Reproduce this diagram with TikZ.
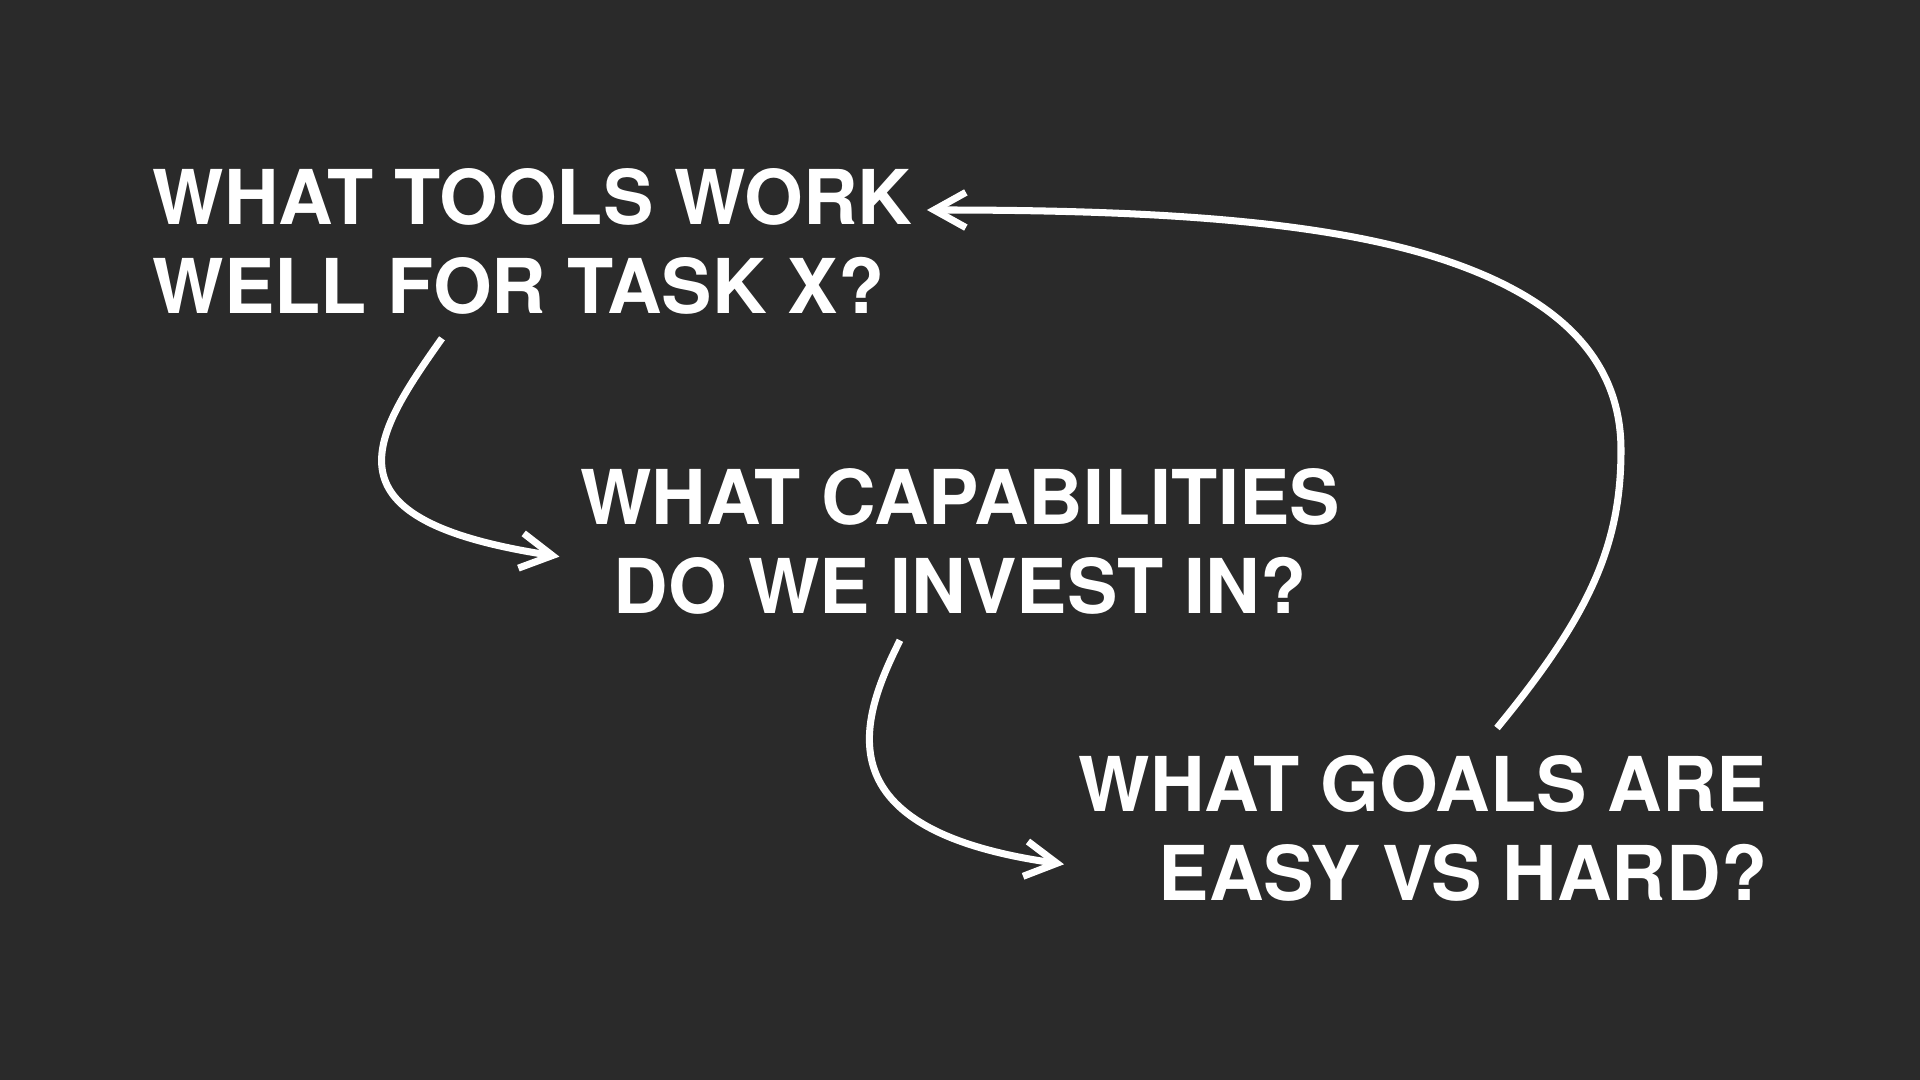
\documentclass[tikz,border=0pt]{standalone}
\usepackage{fontspec}
\setmainfont{TeX Gyre Heros}
\usetikzlibrary{arrows.meta,calc}
\definecolor{slate}{RGB}{42,42,42}
\tikzstyle{question} = [text=white, font=\bfseries\fontsize{21.5}{25.3}\selectfont, inner sep=0pt]
\tikzstyle{line} = [draw=white, line width=2pt, -{Straight Barb[length=9pt,width=10pt]}]

\begin{document}
\begin{tikzpicture}[x=0.01cm,y=-0.01cm]
    \fill[slate] (0,0) rectangle (1920,1080);
    \useasboundingbox (0,0) rectangle (1920,1080);
    % Place nodes
    \node [question, align=left, anchor=north west] (tools) at (152,168) {WHAT TOOLS WORK\\WELL FOR TASK X?};
    \node [question, align=center, anchor=north] (caps) at (960,468) {WHAT CAPABILITIES\\DO WE INVEST IN?};
    \node [question, align=right, anchor=north east] (goals) at (1768,755) {WHAT GOALS ARE\\EASY VS HARD?};
    % Draw edges
    \path [line] ($(tools.south west)+(290,23)$) .. controls (370,440) and (320,520) .. ($(caps.west)+(-20,15)$);
    \path [line] ($(caps.south)+(-60,25)$) .. controls (860,720) and (820,830) .. ($(goals.south west)+(-14,-38)$);
    \path [line] ($(goals.north east)+(-271,-27)$) .. controls (1590,615) and (1621,545) .. (1621,450)
        .. controls (1621,360) and (1560,300) .. (1450,262)
        .. controls (1329,220) and (1150,210) .. ($(tools.north east)+(14,42)$);
\end{tikzpicture}
\end{document}
